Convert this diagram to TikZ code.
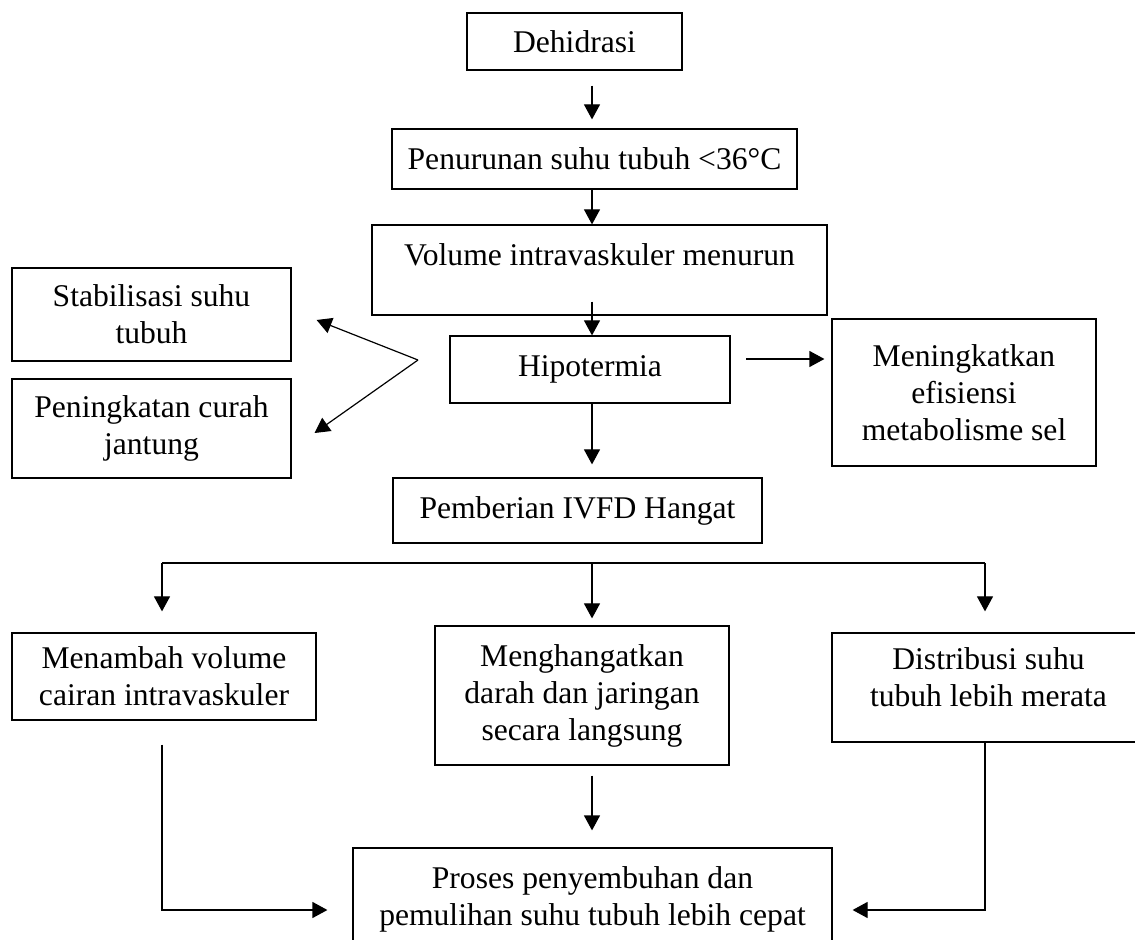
\documentclass[tikz,border=0pt]{standalone}
\usepackage{fontspec}
\setmainfont{Liberation Serif}
\usetikzlibrary{arrows.meta,calc,positioning}
\tikzset{
  flowbox/.style={draw,line width=0.6pt,inner sep=0pt,align=center,font=\fontsize{15.8pt}{18.5pt}\selectfont},
  flowarrow/.style={line width=0.6pt,-{Triangle[width=8pt,length=7.5pt]}},
  flowline/.style={line width=0.6pt}
}
\begin{document}
\begin{tikzpicture}[x=0.5pt,y=-0.5pt]
  \useasboundingbox (0,0) rectangle (1135,940);
  \clip (0,0) rectangle (1135,940);
  \coordinate (spine) at (592,0);
  \node[flowbox,minimum width=107.5pt,minimum height=28.5pt] (dehidrasi) at (574.5,41.5) {Dehidrasi};
  \node[flowbox,minimum width=202.5pt,minimum height=30pt] (penurunan) at (594.5,159) {Penurunan suhu tubuh <36°C};
  \node[flowbox,minimum width=227.5pt,minimum height=45pt] (volume) at (599.5,270) {Volume intravaskuler menurun\\[-9pt]\strut};
  \node[flowbox,minimum width=140pt,minimum height=33.5pt] (hipotermia) at (590,369.5) {Hipotermia};
  \node[flowbox,minimum width=139.5pt,minimum height=46.5pt] (stabil) at (151.5,314.5) {Stabilisasi suhu\\tubuh};
  \node[flowbox,minimum width=139.5pt,minimum height=49.5pt] (curah) at (151.5,428.5) {Peningkatan curah\\jantung};
  \node[flowbox,minimum width=132pt,minimum height=73.5pt] (efisiensi) at (964,392.5) {Meningkatkan\\efisiensi\\metabolisme sel};
  \node[flowbox,minimum width=184.5pt,minimum height=32.5pt] (pemberian) at (577.5,510.5) {Pemberian IVFD Hangat};
  \node[flowbox,minimum width=152pt,minimum height=43.5pt] (menambah) at (164,676.5) {Menambah volume\\cairan intravaskuler};
  \node[flowbox,minimum width=147pt,minimum height=69.5pt] (hangat) at (582,695.5) {Menghangatkan\\darah dan jaringan\\secara langsung};
  \node[flowbox,minimum width=156.5pt,minimum height=54.5pt] (distribusi) at (988.5,687.5) {Distribusi suhu\\tubuh lebih merata\\[-14pt]\strut};
  \node[flowbox,minimum width=239.5pt,minimum height=51pt] (proses) at (592.5,899) {Proses penyembuhan dan\\pemulihan suhu tubuh lebih cepat};
  \draw[flowarrow,shorten <=7.5pt,shorten >=4.5pt] (dehidrasi.south -| spine) -- (penurunan.north -| spine);
  \draw[flowarrow] (penurunan.south -| spine) -- (volume.north -| spine);
  \draw[flowarrow,shorten <=-7pt] (volume.south -| spine) -- (hipotermia.north -| spine);
  \draw[flowarrow,shorten >=6.5pt] (hipotermia.south -| spine) -- (pemberian.north -| spine);
  \coordinate (fork) at (418,360);
  \draw[flowarrow] (fork) -- ([xshift=12.5pt,yshift=-2.75pt]stabil.east);
  \draw[flowarrow] (fork) -- ([xshift=11.5pt,yshift=-2.25pt]curah.east);
  \coordinate (hipoR) at (746,359);
  \draw[flowarrow,shorten >=3.5pt] (hipoR) -- (hipoR -| efisiensi.west);
  \coordinate (barL) at (162,563);
  \coordinate (barR) at (985,563);
  \draw[flowline] (barL) -- (barR);
  \draw[flowarrow,shorten >=10.5pt] (barL) -- (barL |- menambah.north);
  \draw[flowarrow,shorten >=3.5pt] (spine |- barL) -- (spine |- hangat.north);
  \draw[flowarrow,shorten >=10.5pt] (barR) -- (barR |- distribusi.north);
  \coordinate (joinL) at (162,910);
  \coordinate (joinR) at (985,910);
  \draw[flowarrow,shorten <=12pt,shorten >=12.5pt] (barL |- menambah.south) -- (joinL) -- (joinL -| proses.west);
  \draw[flowarrow,shorten >=10pt] (barR |- distribusi.south) -- (joinR) -- (joinR -| proses.east);
  \draw[flowarrow,shorten <=5pt,shorten >=8.5pt] (hangat.south -| spine) -- (proses.north -| spine);
\end{tikzpicture}
\end{document}
